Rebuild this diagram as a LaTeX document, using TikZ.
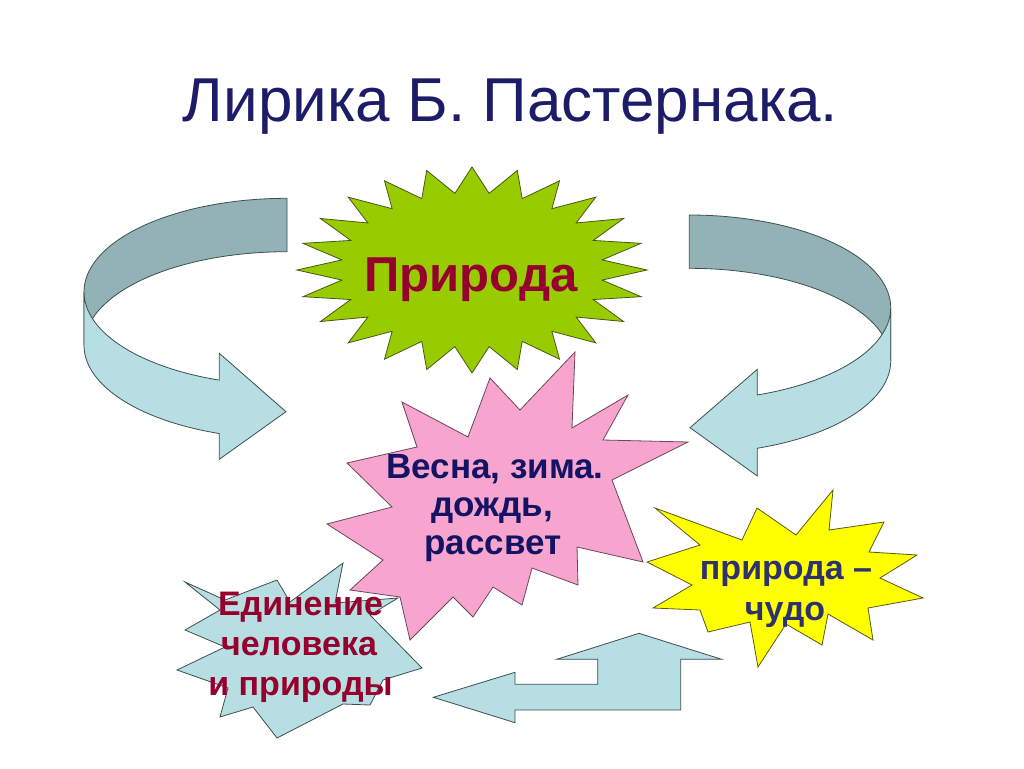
\documentclass[tikz,border=0pt]{standalone}
\usepackage{fontspec}
\setmainfont{Liberation Sans}
\definecolor{titleblue}{RGB}{28,28,105}
\definecolor{gfill}{RGB}{153,204,0}
\definecolor{gline}{RGB}{70,90,20}
\definecolor{maroon}{RGB}{150,0,45}
\definecolor{navy}{RGB}{20,20,100}
\definecolor{pfill}{RGB}{247,164,206}
\definecolor{pline}{RGB}{110,70,90}
\definecolor{yfill}{RGB}{255,255,0}
\definecolor{yline}{RGB}{90,90,20}
\definecolor{ytext}{RGB}{45,50,110}
\definecolor{bfill}{RGB}{183,222,226}
\definecolor{bback}{RGB}{147,178,181}
\definecolor{bline}{RGB}{60,80,82}
\tikzset{
  outl/.style={line width=0.8pt, line join=miter},
  greenstar/.style={outl, fill=gfill, draw=gline},
  pinkstar/.style={outl, fill=pfill, draw=pline},
  yellowstar/.style={outl, fill=yfill, draw=yline},
  bluestar/.style={outl, fill=bfill, draw=bline},
  backband/.style={outl, fill=bback, draw=bline},
  frontband/.style={outl, fill=bfill, draw=bline},
  lbl/.style={anchor=base, inner sep=0pt, font=\bfseries\fontsize{34}{40}\selectfont},
}
\begin{document}
\begin{tikzpicture}[x=1pt,y=-1pt]
\useasboundingbox[fill=white] (0,0) rectangle (1024,768);

% title
\node[anchor=base, inner sep=0pt, text=titleblue, font=\fontsize{62}{74}\selectfont] (title) at (510.5,121) {Лирика Б. Пастернака.};

% left curved arrow
\filldraw[backband] plot[domain=270:180, samples=50] ({287+203*cos(\x)},{291.9+93.6*sin(\x)})
  -- plot[domain=180:270, samples=50] ({287+203*cos(\x)},{345.3+93.6*sin(\x)}) -- cycle;
\filldraw[frontband] plot[domain=180:109.48, samples=50] ({287+203*cos(\x)},{291.9+93.6*sin(\x)})
  -- (219.3,353.3) -- (286,411.7) -- (219.3,459.3)
  -- plot[domain=109.48:180, samples=50] ({287+203*cos(\x)},{345.3+93.6*sin(\x)}) -- cycle;

% right curved arrow
\filldraw[backband] plot[domain=270:360, samples=50] ({689.3+201.4*cos(\x)},{307.7+92.7*sin(\x)})
  -- plot[domain=360:270, samples=50] ({689.3+201.4*cos(\x)},{361+92.7*sin(\x)}) -- cycle;
\filldraw[frontband] plot[domain=0:70.27, samples=50] ({689.3+201.4*cos(\x)},{307.7+92.7*sin(\x)})
  -- (757.3,369.3) -- (690,427.7) -- (757.3,476)
  -- plot[domain=70.27:0, samples=50] ({689.3+201.4*cos(\x)},{361+92.7*sin(\x)}) -- cycle;

% green star
\filldraw[greenstar] (472,167) \foreach \k in {1,...,47} {
  -- ({472+175*(1-0.25*mod(\k,2))*cos(-90+7.5*\k)},{270+103*(1-0.25*mod(\k,2))*sin(-90+7.5*\k)}) } -- cycle;
\node[anchor=base, inner sep=0pt, text=maroon, font=\bfseries\fontsize{49}{59}\selectfont] (nature) at (471,291.7) {Природа};

% light blue star (bottom left)
\filldraw[bluestar] (185,582) -- (225,600) -- (277,580) -- (290,602) -- (343,563) -- (335,603)
  -- (398,598) -- (370,615) -- (422,668) -- (383,680) -- (370,705) -- (343,704)
  -- (277,738) -- (253,707) -- (220,717) -- (228,688) -- (177,670) -- (225,647)
  -- (185,630) -- (220,610) -- cycle;

% pink star
\filldraw[pinkstar] (575,352) -- (572,428) -- (628,395) -- (603,440) -- (688,442) -- (612,480)
  -- (643,562) -- (577,547) -- (578,585) -- (532,568) -- (522,605) -- (493,587)
  -- (473,617) -- (453,597) -- (410,640) -- (400,597) -- (350,590) -- (383,560)
  -- (327,524) -- (392,507) -- (347,463) -- (417,447) -- (402,402) -- (468,437)
  -- (490,378) -- (520,410) -- cycle;
\node[lbl, text=navy, font=\bfseries\fontsize{35}{42}\selectfont] (seasons1) at (495,478) {Весна, зима.};
\node[lbl, text=navy, font=\bfseries\fontsize{35}{42}\selectfont] (seasons2) at (492,516.5) {дождь,};
\node[lbl, text=navy, font=\bfseries\fontsize{35}{42}\selectfont] (seasons3) at (493,554) {рассвет};

% text of the light blue star
\node[lbl, text=maroon] (unity1) at (300.5,615) {Единение};
\node[lbl, text=maroon] (unity2) at (299,655) {человека};
\node[lbl, text=maroon] (unity3) at (300.5,695) {и природы};

% yellow star
\filldraw[yellowstar] (655,508) -- (742,540) -- (757,508) -- (796,535) -- (833,490) -- (829,530)
  -- (884,522) -- (869,552) -- (917,555) -- (880,578) -- (923,598) -- (868,608)
  -- (873,640) -- (828,614) -- (822,645) -- (786,624) -- (758,667) -- (750,622)
  -- (708,632) -- (700,610) -- (653,608) -- (692,585) -- (647,562) -- (700,545) -- cycle;
\node[lbl, text=ytext] (wonder1) at (786,579) {природа –};
\node[lbl, text=ytext] (wonder2) at (785,620) {чудо};

% bottom bent arrow
\filldraw[frontband] (433.3,697.3) -- (515,672.3) -- (515,684.3) -- (597.7,684.3) -- (597.7,659.3)
  -- (556.7,659.3) -- (639,633.3) -- (721.7,659.3) -- (680.7,659.3) -- (680.7,710)
  -- (515,710) -- (515,722.7) -- cycle;
\end{tikzpicture}
\end{document}
